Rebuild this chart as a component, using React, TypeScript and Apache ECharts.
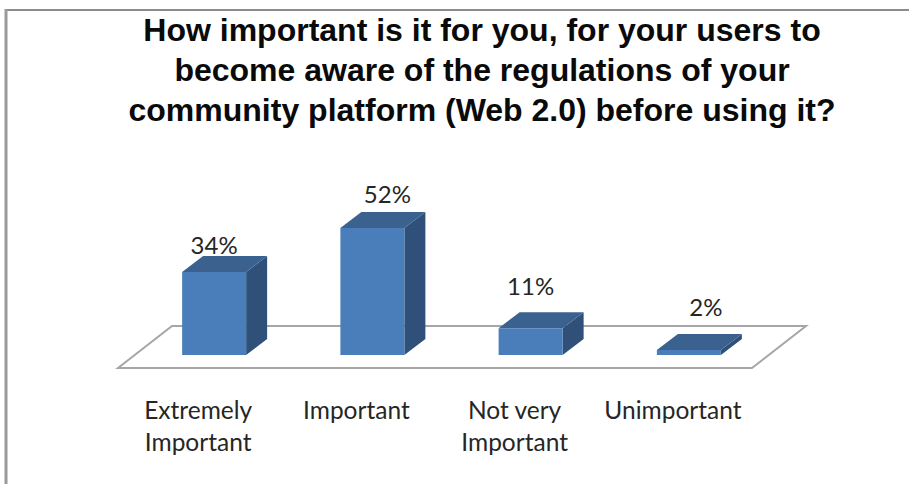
import React, { useEffect, useRef } from "react";
import * as echarts from "echarts";

const titleLines = [
  "How important is it for you, for your users to",
  "become aware of the regulations of your",
  "community platform (Web 2.0) before using it?",
];
const categories = ["Extremely\nImportant", "Important", "Not very\nImportant", "Unimportant"];
const values = [34, 52, 11, 2];
const valueLabels = ["34%", "52%", "11%", "2%"];
const labelShiftX = [0, 15, 0, 17];
const labelShiftY = [-28, -35, -43, -44];

const DEPTH_X = 21;
const DEPTH_Y = 16;
const BAR_W = 64;
const FONT = "Lato, 'Noto Sans', sans-serif";

export default function App() {
  const ref = useRef<HTMLDivElement>(null);
  useEffect(() => {
    const chart = echarts.init(ref.current!, null, { renderer: "svg" });
    chart.setOption({
      animation: false,
      backgroundColor: "#ffffff",
      title: {
        text: titleLines.join("\n"),
        left: 477,
        top: 5,
        textAlign: "center",
        textStyle: {
          fontFamily: "'Liberation Sans', Arial, sans-serif",
          fontWeight: "bold",
          fontSize: 32,
          lineHeight: 40,
          color: "#0a0a0a",
        },
      },
      grid: { left: 135, right: 141, top: 208.6, bottom: 129 },
      xAxis: {
        type: "category",
        data: categories,
        axisLine: { show: false },
        axisTick: { show: false },
        splitLine: { show: false },
        axisLabel: {
          interval: 0,
          margin: 38,
          fontFamily: FONT,
          fontSize: 24.5,
          lineHeight: 32,
          color: "#262626",
          padding: [0, 32, 0, 0],
          verticalAlign: "top",
        },
      },
      yAxis: { type: "value", min: 0, max: 60, show: false },
      graphic: [
        {
          type: "polygon",
          z: 0,
          shape: { points: [[118, 368], [172, 326], [806, 326], [752, 368]] },
          style: { fill: "#ffffff", stroke: "#a6a6a6", lineWidth: 2 },
        },
        {
          type: "line",
          z: 0,
          shape: { x1: 5, y1: 10, x2: 909, y2: 10 },
          style: { stroke: "#8c8c8c", lineWidth: 2 },
        },
        {
          type: "line",
          z: 0,
          shape: { x1: 6, y1: 9, x2: 6, y2: 484 },
          style: { stroke: "#9a9a9a", lineWidth: 3 },
        },
      ],
      series: [
        {
          type: "custom",
          z: 2,
          data: values,
          clip: false,
          encode: { x: 0, y: 1 },
          renderItem: (params: any, api: any) => {
            const i = params.dataIndex;
            const [cx, yTop] = api.coord([i, api.value(1)]);
            const [, yBase] = api.coord([i, 0]);
            const l = cx - BAR_W / 2;
            const r = cx + BAR_W / 2;
            return {
              type: "group",
              children: [
                {
                  type: "polygon",
                  shape: { points: [[r, yTop], [r + DEPTH_X, yTop - DEPTH_Y], [r + DEPTH_X, yBase - DEPTH_Y], [r, yBase]] },
                  style: { fill: "#2e5079" },
                },
                {
                  type: "polygon",
                  shape: { points: [[l, yTop], [l + DEPTH_X, yTop - DEPTH_Y], [r + DEPTH_X, yTop - DEPTH_Y], [r, yTop]] },
                  style: { fill: "#3b618f" },
                },
                {
                  type: "rect",
                  shape: { x: l, y: yTop, width: BAR_W, height: yBase - yTop },
                  style: { fill: "#4a7ebb" },
                },
                {
                  type: "text",
                  style: {
                    x: cx + labelShiftX[i],
                    y: yTop + labelShiftY[i],
                    text: valueLabels[i],
                    align: "center",
                    verticalAlign: "middle",
                    fontFamily: FONT,
                    fontSize: 24,
                    fill: "#262626",
                  },
                },
              ],
            };
          },
        },
      ],
    });
    return () => chart.dispose();
  }, []);
  return <div ref={ref} style={{ position: "fixed", left: 0, top: 0, width: 909, height: 484 }} />;
}
